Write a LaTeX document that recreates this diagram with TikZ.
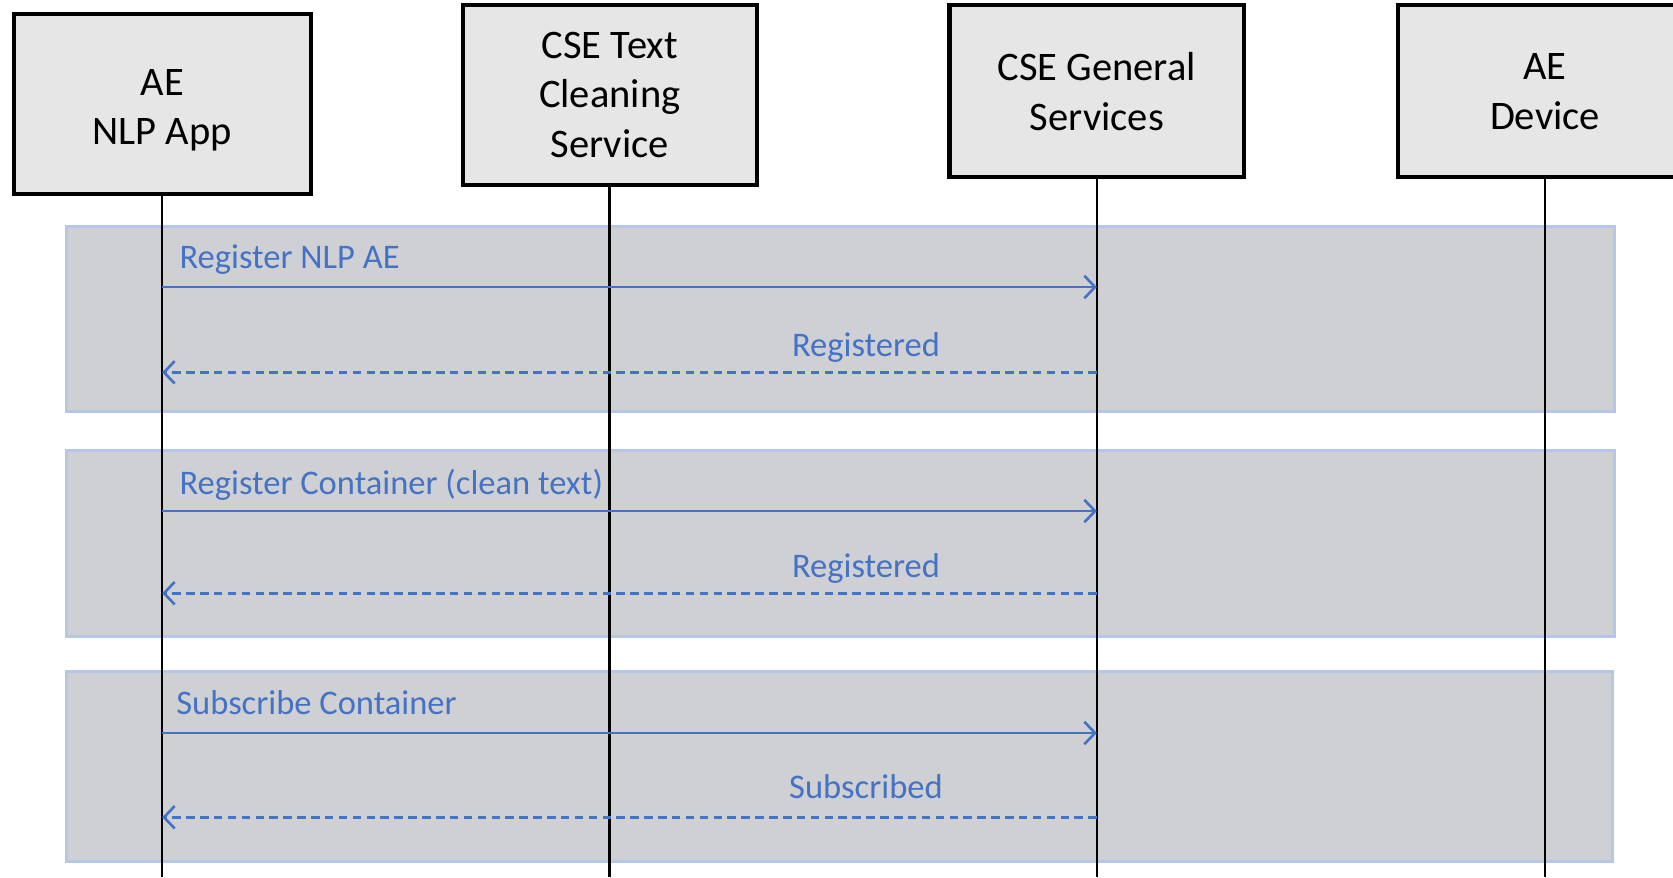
\documentclass[tikz,border=0pt]{standalone}
\usepackage{fontspec}
\setmainfont{Carlito}
\usetikzlibrary{arrows.meta}
\definecolor{boxgray}{HTML}{E6E6E6}
\definecolor{grpfill}{HTML}{CFD0D4}
\definecolor{grpline}{HTML}{B4C7E7}
\definecolor{msgblue}{HTML}{4472C4}

\begin{document}
\begin{tikzpicture}[x=0.01cm,y=-0.01cm,
		actor/.style={draw=black,line width=1.1pt,fill=boxgray,align=center,inner sep=0pt,
			font=\fontsize{10.8}{13.3}\selectfont},
		group/.style={fill=grpfill,draw=grpline,line width=0.8pt},
		lifeline/.style={draw=black,line width=0.7pt},
		msg/.style={draw=msgblue,line width=0.7pt,-{Straight Barb[length=0.1cm,width=0.21cm]}},
		reply/.style={msg,dash pattern=on 0.08cm off 0.05cm},
		lbl/.style={text=msgblue,font=\fontsize{9.2}{11}\selectfont,inner sep=0pt}]
		\useasboundingbox (0,0) rectangle (1568,822);
		
		\fill[white] (0,0) rectangle (1568,822);
		\path[group] (62,212) rectangle (1513,386);
		\path[group] (62,422) rectangle (1513,597);
		\path[group] (62,629) rectangle (1511,807);
		
		\node[actor,minimum width=2.78cm,minimum height=1.69cm] (nlp) at (152,97.5) {\rule{0pt}{0.36cm}AE\\NLP App};
		\node[actor,minimum width=2.75cm,minimum height=1.68cm] (clean) at (571.5,89) {CSE Text\\Cleaning\\Service};
		\node[actor,minimum width=2.76cm,minimum height=1.61cm] (gen) at (1028,85.5) {CSE General\\Services};
		\node[actor,minimum width=2.76cm,minimum height=1.61cm] (dev) at (1448,85.5) {AE\\Device};
		
		\path[lifeline] (nlp.south) -- (nlp.south |- 0,822);
		\path[lifeline] (clean.south) -- (clean.south |- 0,822);
		\path[lifeline] (gen.south) -- (gen.south |- 0,822);
		\path[lifeline] (dev.south) -- (dev.south |- 0,822);
		
		\draw[msg] (nlp |- 0,269) -- (gen |- 0,269) node[lbl,pos=0,anchor=west,xshift=0.15cm,yshift=0.26cm] {Register NLP AE};
		\draw[reply] (gen |- 0,349) -- (nlp |- 0,349) node[lbl,pos=0.247,yshift=0.23cm] {Registered};
		\draw[msg] (nlp |- 0,479) -- (gen |- 0,479) node[lbl,pos=0,anchor=west,xshift=0.15cm,yshift=0.25cm] {Register Container (clean text)};
		\draw[reply] (gen |- 0,556) -- (nlp |- 0,556) node[lbl,pos=0.247,yshift=0.23cm] {Registered};
		\draw[msg] (nlp |- 0,687) -- (gen |- 0,687) node[lbl,pos=0,anchor=west,xshift=0.12cm,yshift=0.28cm] {Subscribe Container};
		\draw[reply] (gen |- 0,766) -- (nlp |- 0,766) node[lbl,pos=0.247,yshift=0.29cm] {Subscribed};
		
\end{tikzpicture}
\end{document}
